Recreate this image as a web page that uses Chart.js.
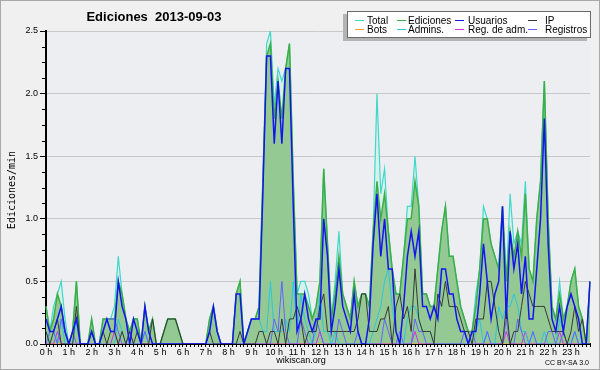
<!DOCTYPE html>
<html><head><meta charset="utf-8">
<script src="https://cdn.jsdelivr.net/npm/chart.js@4/dist/chart.umd.min.js"></script>
<style>html,body{margin:0;padding:0;background:#f0f0f0;}canvas{display:block;}</style>
</head><body>
<canvas id="c" width="600" height="370"></canvas>
<script>
// ---- data (10-minute slots, edits per minute) ----
const hourLabels = ['0 h','1 h','2 h','3 h','4 h','5 h','6 h','7 h','8 h','9 h','10 h','11 h','12 h','13 h','14 h','15 h','16 h','17 h','18 h','19 h','20 h','21 h','22 h','23 h'];
const yTickValues = [0, 0.5, 1, 1.5, 2, 2.5];
const seriesNames = ['Total','Ediciones','Usuarios','IP','Bots','Admins.','Reg. de adm.','Registros'];

const total = [
 .3,.1,.3,.4,.5,.2,0,.1,.5,0,0,0,
 .2,0,0,.2,.2,.2,.3,.7,.4,.2,.1,.2,
 .2,0,.3,.1,.2,0,0,.1,.2,.2,.2,.1,
 0,0,0,0,0,0,0,.2,.3,.1,0,0,
 0,0,.4,.5,0,.1,.2,.2,.3,1.3,2.4,2.5,
 1.9,2.2,2.1,2.2,2.4,1.3,.4,.5,.5,.4,.2,.3,
 .5,1.4,.8,.2,.5,.9,.4,.3,.2,.5,.3,.4,
 .4,.3,.9,2.0,1.2,1.4,.9,.6,.4,.4,.7,1.1,
 1.1,1.5,1.1,.4,.4,.3,.3,.6,.9,1.1,.7,.7,
 .5,.3,.2,.1,.1,.4,.6,1.1,1.0,.8,.7,.6,
 1.1,.5,1.2,.8,.9,.8,1.3,.6,.5,1.0,1.3,2.1,
 1.0,.3,.2,.5,.2,.3,.5,.6,.3,.2,0,.5];
const ediciones = [
 .3,.1,.2,.4,.3,.1,0,.1,.5,0,0,0,
 .2,0,0,.2,.2,.2,.2,.5,.4,.2,.1,.2,
 .2,0,.3,.1,.2,0,0,.1,.2,.2,.2,.1,
 0,0,0,0,0,0,0,.2,.3,.1,0,0,
 0,0,.4,.5,0,.1,.2,.2,.3,1.3,2.3,2.4,
 1.8,2.1,1.8,2.2,2.4,1.3,.4,.4,.4,.3,.2,.3,
 .5,1.4,.8,.2,.4,.7,.4,.3,.2,.5,.3,.4,
 .4,.3,.9,1.3,1.0,1.2,.9,.6,.4,.4,.7,1.0,
 1.0,1.3,1.1,.4,.4,.3,.3,.6,.9,1.1,.7,.7,
 .5,.3,.2,.1,.1,.3,.6,1.0,1.0,.8,.7,.6,
 1.1,.5,.9,.7,.9,.7,1.2,.6,.5,1.0,1.3,2.1,
 1.0,.3,.2,.4,.2,.3,.5,.6,.3,.2,0,.5];
const usuarios = [
 .2,.1,.1,.2,.3,.1,0,.1,.2,0,0,0,
 .1,0,0,.1,.2,.1,.1,.5,.3,.2,0,.2,
 .1,0,.3,.1,0,0,0,0,0,0,0,0,
 0,0,0,0,0,0,0,.1,.3,.1,0,0,
 0,0,.4,.4,0,.1,.2,.2,.2,1.2,2.3,2.3,
 1.6,2.1,1.6,2.2,2.2,1.1,.1,.2,.4,.2,.1,.2,
 .2,1.0,.7,.1,.3,.6,.3,.2,.1,.4,.1,0,
 0,.2,.8,1.2,.7,1.0,.6,.6,.1,0,.3,.7,
 .9,.7,.9,.3,.3,.2,.3,.2,.6,.6,.4,.4,
 .2,.1,.1,0,.1,.1,.4,.8,.5,.2,.4,.5,
 1.1,.2,.9,.6,.8,.4,.7,.2,.2,.6,1.0,1.8,
 .8,.2,.1,.3,.1,.3,.4,.3,.2,0,0,.5];
const ip = [
 .1,0,.1,.2,0,0,0,0,.3,0,0,0,
 .1,0,0,.1,0,.1,.1,0,.1,0,.1,0,
 .1,0,0,0,.2,0,0,.1,.2,.2,.2,.1,
 0,0,0,0,0,0,0,.1,0,0,0,0,
 0,0,0,.1,0,0,0,0,.1,.1,0,.1,
 .1,0,.2,0,.2,.2,.3,.2,0,.1,.1,.1,
 .3,.4,.1,.1,.1,.1,.1,.1,.1,.1,.2,.4,
 .4,.1,.1,.1,.2,.2,.3,0,.3,.4,.2,.3,
 .1,.6,.2,.1,.1,.1,0,.4,.3,.5,.3,.3,
 .3,.2,.1,.1,0,.2,.2,.2,.5,.5,.3,.1,
 0,.3,0,.1,.1,.3,.5,.4,.3,.3,.3,.3,
 .2,.1,.1,.1,.1,0,.1,.3,.1,.2,0,0];
const bots = [
 0,0,0,0,0,0,0,0,0,0,0,0, 0,0,0,0,0,0,0,0,0,0,0,0,
 0,0,0,0,0,0,0,0,0,0,0,0, 0,0,0,0,0,0,0,0,0,0,0,0,
 0,0,0,0,0,0,0,0,0,0,0,0, 0,0,0,0,0,0,0,0,0,0,0,0,
 0,0,0,0,0,0,0,0,0,0,0,0, 0,0,0,0,0,0,0,0,0,0,0,0,
 0,0,0,0,0,0,0,0,0,0,0,0, 0,0,0,0,0,0,0,0,0,0,0,0,
 0,0,0,0,0,0,0,0,0,0,0,0, 0,0,0,0,0,0,0,0,0,0,0,0];
const admins = [
 .1,0,.1,0,.2,0,0,0,.2,0,0,0,
 0,0,0,0,0,0,0,.2,.1,0,0,0,
 0,0,.1,0,0,0,0,0,0,0,0,0,
 0,0,0,0,0,0,0,0,0,0,0,0,
 0,0,0,0,0,.1,.2,.2,.2,.1,.1,.5,
 .1,.1,.1,.2,.1,.5,.1,.4,.2,.1,0,.1,
 .4,.1,.1,0,.1,0,0,0,0,0,0,0,
 0,0,.1,.2,.3,.5,.6,.3,.1,0,0,.2,
 .3,.3,.2,.1,.1,.1,0,0,0,0,0,0,
 0,0,0,0,0,.1,.2,0,.1,0,0,.3,
 .2,.3,.3,.4,.3,.1,.1,0,.1,0,0,.1,
 0,0,0,.2,.1,0,0,.1,0,0,0,0];
const regAdm = [
 0,0,0,.1,0,0,0,0,0,0,0,0,
 0,0,0,0,0,0,.1,0,0,0,0,0,
 0,0,0,0,0,0,0,0,0,0,0,0,
 0,0,0,0,0,0,0,0,0,0,0,0,
 0,0,0,0,0,0,0,0,0,0,0,0,
 0,0,0,0,0,0,0,0,0,0,0,0,
 .1,0,0,0,0,0,0,0,0,0,0,0,
 0,0,0,0,0,0,0,0,0,0,0,0,
 0,.1,0,0,0,0,0,0,0,0,0,0,
 0,0,0,0,0,0,0,0,0,0,0,0,
 0,.1,0,0,0,0,.1,0,0,0,0,0,
 0,0,0,.1,0,0,0,0,0,0,0,0];
const registros = [
 0,.1,.1,0,.2,.1,0,.1,0,0,0,0,
 0,0,0,.1,.2,.2,.2,.1,0,0,.1,0,
 0,0,.1,0,0,0,0,0,0,0,0,0,
 0,0,0,0,0,0,0,0,0,0,0,0,
 0,0,0,0,0,0,0,0,0,0,0,0,
 .2,.1,.5,.1,0,0,0,.2,.1,0,0,.2,
 .1,0,0,0,0,.2,.1,0,0,0,.1,0,
 0,0,0,0,0,.2,.1,0,0,.1,0,0,
 0,.2,.1,.1,0,0,0,0,0,0,0,0,
 0,0,.1,0,.1,0,0,0,.1,0,0,0,
 0,.2,0,0,.2,.1,0,0,.1,0,0,0,
 .1,.1,0,0,.1,0,0,.1,0,0,0,0];

// 10-minute slot labels (category axis)
const slots = [];
for (let h = 0; h < 24; h++) for (let m = 0; m < 60; m += 10) slots.push(h + ':' + String(m).padStart(2, '0'));

const FONT = '"Liberation Sans", Arial, sans-serif';
Chart.defaults.font.family = FONT;

function line(label, data, color, width, order, fillColor) {
  return { label, data, borderColor: color, backgroundColor: fillColor || color, borderWidth: width,
    fill: fillColor ? 'origin' : false, pointRadius: 0, tension: 0, order };
}

const datasets = [
  line(seriesNames[0], total, '#40d8c8', 1.2, 10, '#d8f1ed'),
  line(seriesNames[1], ediciones, '#3cae44', 1.5, 9, '#94c994'),
  line(seriesNames[2], usuarios, '#1414ee', 1.5, 1),
  line(seriesNames[3], ip, '#383838', 1, 2),
  line(seriesNames[4], bots, '#ffa030', 1, 8),
  line(seriesNames[5], admins, '#2cc6dc', 1, 5),
  line(seriesNames[6], regAdm, '#d030e0', 1, 6),
  line(seriesNames[7], registros, '#6464ff', 1, 4)
];

const deco = {
  id: 'deco',
  beforeDraw(chart) {
    const { ctx, chartArea: a } = chart;
    ctx.save();
    ctx.fillStyle = '#f0f0f0';
    ctx.fillRect(0, 0, chart.width, chart.height);
    ctx.fillStyle = '#edeef1';
    ctx.fillRect(a.left, a.top, a.right - a.left, a.bottom - a.top);
    ctx.restore();
  },
  afterDraw(chart) {
    const { ctx } = chart;
    const ys = chart.scales.y;
    ctx.save();
    // minor y ticks every 0.125
    ctx.strokeStyle = '#000'; ctx.lineWidth = 1;
    for (let k = 0; k <= 20; k++) {
      if (k % 4 === 0) continue;
      const py = Math.round(ys.getPixelForValue(k * 0.125)) + 0.5;
      ctx.beginPath(); ctx.moveTo(42, py); ctx.lineTo(46, py); ctx.stroke();
    }
    // title
    ctx.fillStyle = '#000';
    ctx.textBaseline = 'middle';
    ctx.textAlign = 'center';
    ctx.font = 'bold 13px ' + FONT;
    ctx.fillText('Ediciones  2013-09-03', 154, 17);
    // y axis title
    ctx.save();
    ctx.translate(12, 190); ctx.rotate(-Math.PI / 2);
    ctx.font = '10px "DejaVu Sans Mono", monospace';
    ctx.fillText('Ediciones/min', 0, 0);
    ctx.restore();
    // legend box with shadow
    ctx.fillStyle = '#b4b4b4';
    ctx.fillRect(343, 14, 244, 27);
    ctx.fillStyle = '#ffffff';
    ctx.fillRect(347, 11, 244, 27);
    ctx.strokeStyle = '#6a6a6a';
    ctx.strokeRect(347.5, 11.5, 243, 26);
    const swX = [355, 397, 455, 528], txX = [367, 408, 468, 545], rowY = [20, 29];
    ctx.font = '10px ' + FONT;
    ctx.textAlign = 'left';
    chart.data.datasets.forEach((ds, i) => {
      const r = Math.floor(i / 4), c = i % 4, y = rowY[r];
      ctx.strokeStyle = ds.borderColor; ctx.lineWidth = 1;
      ctx.beginPath(); ctx.moveTo(swX[c], y + 0.5); ctx.lineTo(swX[c] + 9, y + 0.5); ctx.stroke();
      ctx.fillStyle = '#000';
      ctx.fillText(ds.label, txX[c], y + 1);
    });
    // footer
    ctx.textAlign = 'center';
    ctx.font = '9px ' + FONT;
    ctx.fillText('wikiscan.org', 301, 361);
    ctx.textAlign = 'right';
    ctx.font = '7px ' + FONT;
    ctx.fillText('CC BY-SA 3.0', 589, 363);
    // outer border
    ctx.strokeStyle = '#a8a8a8'; ctx.lineWidth = 1;
    ctx.strokeRect(0.5, 0.5, 599, 369);
    ctx.restore();
  }
};

new Chart(document.getElementById('c'), {
  type: 'line',
  data: { labels: slots, datasets },
  options: {
    responsive: false, animation: false, devicePixelRatio: 1,
    layout: { padding: { top: 31, right: 10, left: 0, bottom: 0 } },
    plugins: { legend: { display: false }, title: { display: false }, tooltip: { enabled: false },
      filler: { drawTime: 'beforeDatasetsDraw', propagate: false } },
    scales: {
      x: {
        type: 'category', offset: false, z: 1,
        afterFit: s => { s.height = 26; },
        grid: { drawOnChartArea: false, drawTicks: true, tickLength: 3, tickColor: '#000' },
        border: { display: true, color: '#000', width: 2 },
        ticks: { autoSkip: false, maxRotation: 0, minRotation: 0, padding: 0, color: '#000',
          font: { size: 9, family: FONT },
          callback: (v, i) => (i % 6 === 0 ? hourLabels[i / 6] : '') }
      },
      y: {
        min: 0, max: 2.5,
        afterFit: s => { s.width = 46; },
        afterBuildTicks: s => { s.ticks = yTickValues.map(v => ({ value: v })); },
        grid: { color: c => (c.tick && c.tick.value === 0 ? 'rgba(0,0,0,0)' : '#c8c8c8'), lineWidth: 1,
          drawTicks: true, tickLength: 6, tickColor: '#000' },
        border: { display: true, color: '#000', width: 2 },
        ticks: { padding: 2, color: '#000', font: { size: 9, family: FONT }, callback: v => Number(v).toFixed(1) }
      }
    }
  },
  plugins: [deco]
});
</script>
</body></html>
